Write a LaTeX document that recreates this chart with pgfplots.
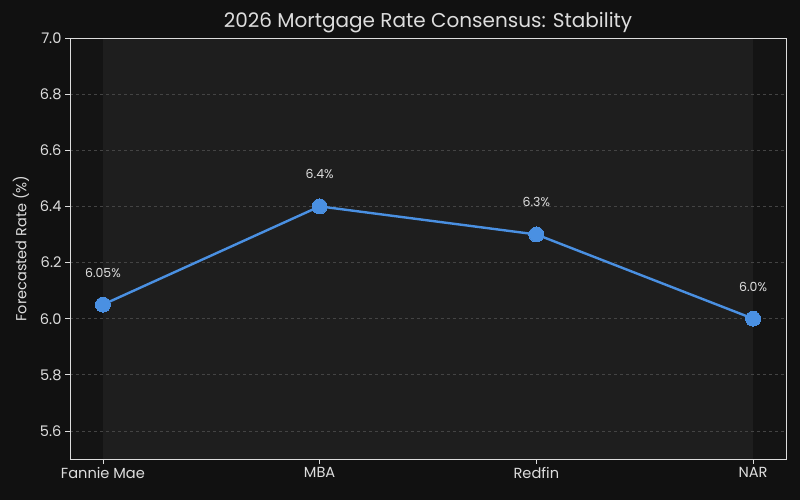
\documentclass[border=0pt]{standalone}
\usepackage{fontspec}
\setmainfont{Poppins}
\usepackage{pgfplots}
\pgfplotsset{compat=1.18}
\definecolor{figbg}{HTML}{111111}
\definecolor{axbg}{HTML}{141414}
\definecolor{band}{HTML}{1E1E1E}
\definecolor{txt}{HTML}{DDDDDD}
\definecolor{gridc}{HTML}{444444}
\definecolor{linec}{HTML}{4A90E2}
\pagecolor{figbg}
\begin{document}
\begin{tikzpicture}[x=1bp,y=1bp]
\path (0,0) rectangle (800,500);
\begin{axis}[
  set layers,
  at={(70bp,41bp)}, anchor=south west,
  scale only axis, width=716bp, height=421bp,
  axis background/.style={fill=axbg},
  axis line style={draw=txt, line width=0.8pt},
  xmin=-0.152, xmax=3.152,
  ymin=5.5, ymax=7.0,
  xtick={0,1,2,3},
  xticklabels={Fannie Mae, MBA, Redfin, NAR},
  ytick={5.6,5.8,6.0,6.2,6.4,6.6,6.8,7.0},
  yticklabel style={/pgf/number format/.cd, fixed, fixed zerofill, precision=1, assume math mode=true},
  ticklabel style={font=\fontsize{14.6bp}{16bp}\selectfont, color=txt},
  tick style={draw=txt, line width=0.8pt},
  tick align=outside, major tick length=5bp,
  xtick pos=bottom, ytick pos=left,
  ymajorgrids, grid style={draw=gridc, dashed, line width=0.6pt},
  ylabel={Forecasted Rate (\%)},
  ylabel style={font=\fontsize{14.5bp}{16bp}\selectfont, color=txt, yshift=4bp},
  title={2026 Mortgage Rate Consensus: Stability},
  title style={font=\fontsize{20bp}{22bp}\selectfont, color=txt, yshift=-4bp},
]
\addplot[on layer=axis background, fill=band, draw=none] coordinates {(0,5.5) (3,5.5) (3,7.0) (0,7.0)} -- cycle;
\addplot[color=linec, line width=2.4bp, mark=*, mark size=7.5bp,
  mark options={fill=linec, draw=linec, line width=0pt},
  point meta=explicit symbolic,
  nodes near coords,
  nodes near coords style={font=\fontsize{12.5bp}{14bp}\selectfont, color=txt, anchor=center, yshift=32bp},
] coordinates {
  (0,6.05) [6.05\%]
  (1,6.4) [6.4\%]
  (2,6.3) [6.3\%]
  (3,6.0) [6.0\%]
};
\end{axis}
\end{tikzpicture}
\end{document}
